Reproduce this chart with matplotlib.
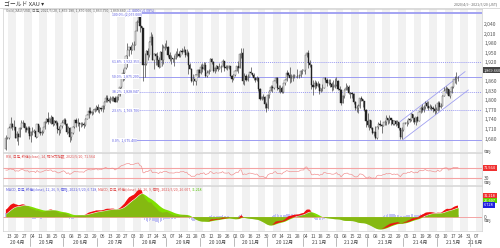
import numpy as np
import pandas as pd
import matplotlib
matplotlib.use("Agg")
import matplotlib.pyplot as plt
from matplotlib import transforms

plt.rcParams['font.family'] = ['Noto Sans CJK JP', 'DejaVu Sans']

# ---- daily gold prices, 2020/4/9 - 2021/5/20 ----
# closes before the visible range, only used to warm up RSI / MACD
warmup_close = [1577, 1552, 1556, 1566, 1570, 1572, 1566, 1565, 1576, 1584, 1581, 1601, 1611, 1620, 1643, 1659, 1635, 1643, 1642, 1585,
                1594, 1640, 1637, 1671, 1673, 1679, 1649, 1635, 1577, 1530, 1514, 1528, 1477, 1470, 1498, 1553, 1632, 1612, 1628, 1617, 1622, 1577,
                1591, 1613, 1620, 1662, 1648, 1646]

close = [1683, 1683, 1713, 1727, 1716, 1717, 1683, 1695, 1686, 1714, 1730, 1729, 1712, 1706, 1713, 1687,
         1700, 1702, 1705, 1685, 1725, 1702, 1697, 1702, 1715, 1731, 1743, 1732, 1745, 1747, 1726, 1735, 1729, 1709, 1707, 1719, 1730,
         1740, 1727, 1700, 1714, 1684, 1698, 1715, 1738, 1728, 1730, 1726, 1727, 1727, 1723, 1743, 1754, 1768, 1762, 1763, 1771, 1772, 1781,
         1770, 1775, 1774, 1784, 1795, 1809, 1803, 1799, 1802, 1809, 1808, 1796, 1810, 1818, 1842, 1871, 1887, 1902, 1941, 1958, 1970, 1958, 1975,
         1976, 2019, 2049, 2063, 2035, 2028, 1911, 1915, 1955, 1944, 1985, 2001, 1929, 1946, 1940, 1929, 1907, 1953, 1929, 1964, 1968,
         1970, 1944, 1931, 1933, 1930, 1930, 1946, 1947, 1940, 1956, 1954, 1960, 1944, 1951, 1912, 1900, 1863, 1868, 1862, 1881, 1897, 1886,
         1906, 1900, 1913, 1877, 1887, 1894, 1931, 1922, 1892, 1901, 1908, 1900, 1905, 1907, 1925, 1904, 1902, 1902, 1908, 1878, 1868, 1879,
         1894, 1909, 1904, 1948, 1951, 1862, 1877, 1866, 1874, 1889, 1888, 1880, 1872, 1866, 1871, 1837, 1806, 1812, 1811, 1788, 1777,
         1816, 1831, 1841, 1839, 1863, 1871, 1839, 1837, 1839, 1827, 1855, 1864, 1886, 1881, 1872, 1870, 1877, 1877, 1877, 1876, 1878, 1893, 1895,
         1895, 1943, 1950, 1919, 1913, 1850, 1844, 1856, 1845, 1851, 1829, 1840, 1840, 1871, 1866, 1856, 1856, 1851, 1844, 1843, 1848,
         1861, 1836, 1834, 1793, 1814, 1834, 1838, 1842, 1825, 1824, 1819, 1794, 1776, 1775, 1784, 1809, 1805, 1797, 1770, 1734,
         1723, 1738, 1712, 1697, 1700, 1683, 1716, 1726, 1722, 1719, 1731, 1731, 1745, 1737, 1745, 1738, 1726, 1734, 1725, 1732, 1712, 1685, 1708,
         1728, 1729, 1728, 1743, 1737, 1756, 1744, 1733, 1747, 1736, 1764, 1777, 1770, 1779, 1793, 1783, 1777, 1780, 1777, 1773, 1768, 1769,
         1792, 1779, 1784, 1815, 1831, 1837, 1836, 1815, 1826, 1843, 1867, 1868, 1870, 1870]

high = [1690, 1685, 1720, 1747, 1729, 1739, 1716, 1703, 1698, 1716, 1739, 1738, 1730, 1721, 1718, 1718,
        1703, 1715, 1711, 1711, 1726, 1722, 1715, 1708, 1717, 1736, 1746, 1765, 1746, 1753, 1749, 1737, 1737, 1735, 1718, 1723, 1740,
        1745, 1745, 1728, 1718, 1715, 1700, 1721, 1740, 1745, 1744, 1733, 1733, 1733, 1732, 1745, 1757, 1778, 1779, 1767, 1773, 1775, 1785,
        1789, 1780, 1777, 1786, 1797, 1818, 1818, 1808, 1815, 1813, 1813, 1813, 1815, 1821, 1843, 1874, 1898, 1904, 1945, 1981, 1970, 1974, 1984,
        1989, 2020, 2055, 2070, 2075, 2036, 2028, 1949, 1958, 1964, 1989, 2015, 2011, 1950, 1951, 1952, 1936, 1955, 1977, 1975, 1981,
        1992, 1972, 1952, 1944, 1935, 1944, 1956, 1965, 1956, 1959, 1966, 1972, 1963, 1962, 1955, 1918, 1904, 1882, 1883, 1885, 1900, 1900,
        1916, 1918, 1920, 1921, 1895, 1898, 1933, 1933, 1926, 1907, 1912, 1910, 1917, 1913, 1932, 1926, 1913, 1912, 1912, 1908, 1879, 1882,
        1895, 1910, 1923, 1951, 1965, 1966, 1887, 1884, 1882, 1890, 1907, 1887, 1888, 1874, 1877, 1875, 1839, 1814, 1819, 1814, 1794,
        1819, 1832, 1848, 1848, 1864, 1875, 1875, 1848, 1849, 1846, 1856, 1868, 1895, 1891, 1906, 1882, 1882, 1884, 1878, 1900, 1883, 1895, 1900,
        1896, 1944, 1952, 1959, 1927, 1914, 1864, 1864, 1862, 1863, 1856, 1840, 1852, 1872, 1875, 1870, 1867, 1867, 1858, 1865, 1870,
        1875, 1864, 1845, 1837, 1816, 1835, 1855, 1849, 1848, 1826, 1826, 1825, 1799, 1787, 1789, 1809, 1815, 1804, 1798, 1772,
        1760, 1739, 1739, 1717, 1704, 1719, 1718, 1732, 1739, 1725, 1732, 1739, 1755, 1746, 1755, 1744, 1740, 1738, 1737, 1737, 1732, 1713, 1717,
        1730, 1731, 1740, 1745, 1745, 1759, 1758, 1746, 1748, 1750, 1766, 1784, 1790, 1785, 1797, 1797, 1797, 1789, 1785, 1784, 1790, 1780,
        1798, 1798, 1792, 1816, 1843, 1845, 1844, 1836, 1830, 1845, 1868, 1876, 1890, 1878]

low = [1645, 1680, 1680, 1712, 1708, 1706, 1681, 1672, 1660, 1685, 1711, 1715, 1702, 1701, 1698, 1680,
       1670, 1691, 1696, 1682, 1686, 1697, 1692, 1692, 1698, 1710, 1728, 1726, 1729, 1725, 1718, 1723, 1724, 1697, 1692, 1699, 1713,
       1725, 1724, 1693, 1696, 1670, 1675, 1695, 1712, 1716, 1719, 1705, 1717, 1718, 1712, 1721, 1742, 1746, 1756, 1753, 1757, 1763, 1768,
       1765, 1761, 1767, 1764, 1774, 1794, 1794, 1796, 1791, 1797, 1797, 1795, 1795, 1802, 1815, 1840, 1861, 1866, 1898, 1905, 1939, 1946, 1959,
       1960, 1974, 2018, 2049, 2015, 1982, 1863, 1875, 1912, 1928, 1936, 1975, 1928, 1898, 1912, 1913, 1903, 1905, 1910, 1916, 1960,
       1966, 1937, 1924, 1916, 1922, 1910, 1930, 1938, 1937, 1938, 1948, 1952, 1938, 1940, 1882, 1899, 1858, 1848, 1860, 1848, 1875, 1873,
       1883, 1889, 1897, 1873, 1873, 1882, 1892, 1914, 1889, 1888, 1893, 1894, 1898, 1889, 1908, 1892, 1898, 1895, 1898, 1877, 1859, 1864,
       1876, 1892, 1886, 1904, 1933, 1851, 1848, 1861, 1860, 1874, 1882, 1876, 1864, 1857, 1860, 1831, 1800, 1802, 1805, 1775, 1764,
       1773, 1807, 1830, 1828, 1836, 1855, 1832, 1826, 1823, 1823, 1825, 1850, 1862, 1877, 1855, 1859, 1860, 1872, 1874, 1871, 1870, 1875, 1885,
       1894, 1883, 1936, 1902, 1906, 1836, 1817, 1836, 1840, 1842, 1822, 1826, 1830, 1838, 1859, 1845, 1848, 1844, 1830, 1832, 1840,
       1845, 1833, 1828, 1785, 1791, 1808, 1832, 1834, 1821, 1808, 1809, 1788, 1770, 1764, 1760, 1775, 1797, 1781, 1767, 1717,
       1717, 1706, 1711, 1693, 1687, 1677, 1679, 1710, 1720, 1699, 1719, 1723, 1724, 1726, 1728, 1724, 1722, 1724, 1720, 1722, 1706, 1677, 1678,
       1705, 1726, 1720, 1726, 1731, 1736, 1731, 1727, 1723, 1733, 1736, 1762, 1765, 1763, 1774, 1777, 1769, 1774, 1770, 1763, 1756, 1760,
       1768, 1771, 1776, 1783, 1814, 1825, 1822, 1813, 1809, 1823, 1838, 1855, 1853, 1863]

first_day, last_day, axis_end_day = '2020-04-09', '2021-05-20', '2021-06-11'

# fibonacci retracement drawn on the chart
fib_high, fib_low = 2075.0, 1675.4
fib_levels = [100.0, 61.8, 50.0, 38.2, 23.6, 0.0]
fib_start = 68  # bar index where the tool starts

# rising channel drawn on the chart (bar index, price)
chan_low = [(254.9, 1677.5), (296.6, 1833.0)]
chan_up = [(252.8, 1733.0), (294.5, 1890.8)]

# 1,890 sits under the last-price box on the right
price_ticks = [1680, 1710, 1740, 1770, 1800, 1830, 1860, 1920, 1950, 1980, 2010, 2040]
last_price = '1,869.660'
rsi_last, macd_vals = '71.564', ['31.218', '26.607', '6.728']

# ---------------------------------------------------------------------
W, H = 500, 248


def rect(l, t, r, b):
    return [l / W, 1 - b / H, (r - l) / W, (b - t) / H]


def fy(ypx):
    return 1 - ypx / H


dates = pd.bdate_range(first_day, last_day)
all_days = pd.bdate_range(first_day, axis_end_day)
n = len(close)
x = np.arange(n)
c = np.array(close, float)
o = np.array([warmup_close[-1]] + close[:-1], float)
hi = np.array(high, float)
lo = np.array(low, float)

full = pd.Series(warmup_close + close, dtype=float)
d = full.diff()
ag = d.clip(lower=0).ewm(alpha=1 / 14, adjust=False).mean()
al = (-d.clip(upper=0)).ewm(alpha=1 / 14, adjust=False).mean()
rsi = (100 - 100 / (1 + ag / al)).to_numpy()[-n:]
macd_full = full.ewm(span=12, adjust=False).mean() - full.ewm(span=26, adjust=False).mean()
sig_full = macd_full.ewm(span=9, adjust=False).mean()
macd = macd_full.to_numpy()[-n:]
sig = sig_full.to_numpy()[-n:]
hist = macd - sig

xlim = (-1.85, 305.4)

fig = plt.figure(figsize=(W / 100, H / 100), dpi=100)
fig.patch.set_facecolor('white')
renderer = fig.canvas.get_renderer()

ax1 = fig.add_axes(rect(3, 9, 482, 152))
ax2 = fig.add_axes(rect(3, 153, 482, 185), sharex=ax1)
ax3 = fig.add_axes(rect(3, 186, 482, 231), sharex=ax1)

mondays = [i for i, dd in enumerate(all_days) if dd.weekday() == 0]

for ax in (ax1, ax2, ax3):
    ax.set_facecolor('white')
    for k, m in enumerate(mondays):
        if k % 2 == 0:
            ax.axvspan(m - 0.5, m + 4.5, color='#f1f1f1', lw=0, zorder=0)
    for s in ax.spines.values():
        s.set_color('#d0d0d0')
        s.set_linewidth(0.5)
    ax.tick_params(length=0, labelsize=3.6, colors='#555555', pad=1.5)
    ax.yaxis.tick_right()


def legend_row(ypx, parts, size=2.5):
    # several coloured pieces of text, one after the other
    xpos = 6 / W
    for txt, col in parts:
        t = fig.text(xpos, fy(ypx), txt, fontsize=size, color=col, va='center', zorder=6)
        xpos += t.get_window_extent(renderer=renderer).width / W


def side_box(ypx, txt, fc, tc='white'):
    fig.text(484 / W, fy(ypx), txt, fontsize=2.8, color=tc, va='center', ha='left',
             bbox=dict(boxstyle='square,pad=0.25', fc=fc, ec='none'))


# ---- price panel ----
up = c >= o
ax1.vlines(x, lo, hi, color='#333333', lw=0.45, zorder=2)
ax1.bar(x[up], (c - o)[up], bottom=o[up], width=0.75, color='white', edgecolor='#555555', lw=0.3, zorder=3)
ax1.bar(x[~up], (o - c)[~up], bottom=c[~up], width=0.75, color='#222222', edgecolor='#222222', lw=0.3, zorder=3)

for lv in fib_levels:
    p = fib_low + lv / 100 * (fib_high - fib_low)
    ls = '-' if lv in (0.0, 50.0, 100.0) else (0, (1, 1))
    lw = 1.3 if lv == 100.0 else 0.7
    ax1.hlines(p, fib_start, xlim[1], color='#9c9cf2', lw=lw, linestyles=ls, zorder=1)
    lab = f'{lv:.1f}% ({p:,.3f})' if lv == 100.0 else f'{lv:.1f}%  {p:,.3f}'
    dy = -2.8 if lv == 100.0 else 0
    ax1.text(fib_start, p + dy, lab, fontsize=2.5, color='#5a5ae0', va='center', ha='left',
             bbox=dict(boxstyle='square,pad=0.1', fc='white', ec='none'), zorder=4)

for seg in (chan_low, chan_up):
    ax1.plot([seg[0][0], seg[1][0]], [seg[0][1], seg[1][1]], color='#a0a0f0', lw=0.6, zorder=1)

ax1.set_ylim(1637.5, 2088.5)
ax1.set_yticks(price_ticks)
ax1.set_yticklabels([f'{v:,}' for v in price_ticks])
ax1.set_xlim(*xlim)
ax1.tick_params(axis='x', labelbottom=False)
legend_row(10.0, [('Gold, XAU/USD, 日足, 2021/5/20, 1,869.180, 1,870.660, 1,863.790, 1,869.660, ', '#666666'),
                  ('+1.4400 (+0.08%)', '#5a5ae0')])

# ---- RSI panel ----
ax2.plot(x, rsi, color='#f08a8a', lw=0.45, zorder=3)
ax2.axhline(70, color='#f4a4a4', lw=0.8, zorder=2)
ax2.axhline(30, color='#f4a4a4', lw=0.8, zorder=2)
ax2.set_ylim(-0.8, 131)
ax2.set_yticks([30])
ax2.tick_params(axis='x', labelbottom=False)
legend_row(157.0, [('RSI, 日足, 終値(close), 14, 相対力指数, 2021/5/20, 71.564', '#e05050')])

# ---- MACD panel ----
ax3.bar(x, hist, width=0.8, color='#c4c4f4', lw=0, zorder=1)
ax3.fill_between(x, 0, sig, color='#80e000', lw=0, zorder=2)
ax3.fill_between(x, sig, macd, where=macd > sig, interpolate=True, color='#f01010', lw=0, zorder=2)
ax3.fill_between(x, 0, np.where(macd * sig > 0, np.where(np.abs(macd) < np.abs(sig), macd, sig), 0),
                 color='#8a9a20', alpha=0.55, lw=0, zorder=2)
ax3.axhline(0, color='#f4a4a4', lw=0.7, zorder=1)
ax3.set_ylim(-36, 77)
ax3.set_yticks([0])
legend_row(190.0, [('MACD, 日足, 終値(close), 12, 26, 9, 価格, 2021/5/20, 6.728, ', '#5a5ae0'),
                   ('MACD, 日足, 終値(close), 12, 26, 9, 価格, 2021/5/20, 26.607, ', '#e05050'),
                   ('31.218', '#50c000')])

# x axis: weekly day numbers, month row underneath
ax3.set_xticks(mondays)
ax3.set_xticklabels([f'{all_days[m].day:02d}' for m in mondays])
ax3.tick_params(axis='x', labelsize=3.6, colors='#555555', pad=2)
ax3.set_xlim(*xlim)

trans = transforms.blended_transform_factory(ax3.transData, fig.transFigure)
month_start = [i for i in range(len(all_days)) if i == 0 or all_days[i].month != all_days[i - 1].month]
bounds = month_start + [xlim[1]]
for k, s in enumerate(month_start):
    if s > 0:
        ax3.plot([s - 0.5, s - 0.5], [fy(238), fy(246)], transform=trans, color='#888888', lw=0.4, clip_on=False)
    a = max(s - 0.5, xlim[0])
    b = min(bounds[k + 1] - 0.5, xlim[1])
    dd = all_days[s]
    ax3.text((a + b) / 2, fy(242), f'{dd.year % 100} {dd.month}月', transform=trans, fontsize=3.6,
             color='#444444', ha='center', va='center')

# right column boxes with the latest values
side_box(70.0, last_price, '#444444')
side_box(168.3, rsi_last, '#f03030')
side_box(196.0, macd_vals[0], '#f03030')
side_box(200.5, macd_vals[1], '#60d000')
side_box(205.0, macd_vals[2], '#2020e0')
for ypx in (152, 183.5, 221):
    fig.text(484 / W, fy(ypx), '価格', fontsize=2.8, color='#777777', va='center')

# header
fig.add_artist(plt.Line2D([0, 1], [fy(7.5), fy(7.5)], color='#cccccc', lw=0.5))
fig.text(4 / W, fy(3.8), 'ゴールド XAU ▾', fontsize=4.2, color='#333333', va='center')
fig.text(497 / W, fy(4.3), '2020/4/9 - 2021/5/20 (JST)', fontsize=2.6, color='#666666', va='center', ha='right')

fig.savefig('out.png', dpi=100, facecolor='white')
